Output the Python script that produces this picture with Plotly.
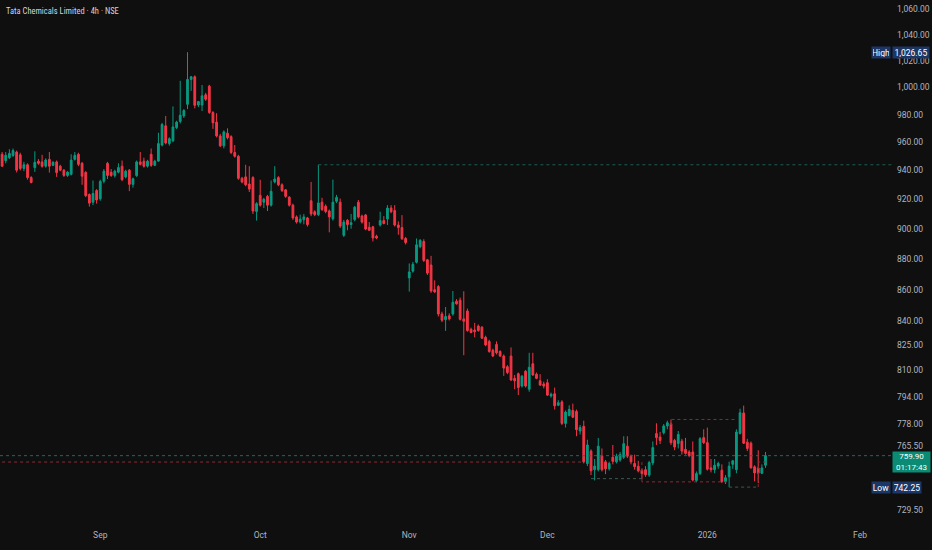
import plotly.graph_objects as go
import math

# ---- OHLC data (4h bars, Tata Chemicals, NSE) ----
ohlc = [
(951.4,953,942.5,943),(946.9,953,945,950.7),(949,955,948,952),(950.6,955.5,949.5,954),
(953,954,938.6,940.2),(951,952.5,940,941.4),(941.4,946,939.5,944),(944,945,933.6,935),
(935,936,931,931.6),(942,953.5,939,945.7),(946.4,948,944,945),(946,951,942,942.9),
(943,948.5,942,947.3),(947.8,953,938.5,943),(943.6,946.5,943,945.7),(946,947,935.5,938.5),
(943,944,939.5,940.2),(940.2,941,935.5,936.5),(936.5,939.5,935.5,938.8),(937.3,951.4,936.5,947.3),
(947.8,953,947,950.6),(951.4,952.5,943,944.3),(945,946,930,936),(938.6,939.5,921.5,922.5),
(923.3,924,915,917.4),(918,933,916,924),(926,927,917,919.5),(920.3,933.5,919,932.3),
(932.5,941,931,939.5),(945,946,934,936.5),(938.7,941,935.5,936.5),(936.5,940.5,935,939.5),
(938.8,945,938,942),(943,947,932.5,933.6),(935.5,940.5,934.5,939.5),(940.2,941,925.6,930.3),
(930.3,935,928,934.2),(936.4,947,935.5,946),(946,953,943.5,944.3),(946.5,949,942,942.9),
(943,947.5,942,946.5),(951.4,955.5,942.5,943.6),(943.6,947.5,943,946.5),(946.6,966.8,946,959),
(958,974,957,972.7),(971.8,979,958.5,959.5),(959,963.5,957.5,962.5),(961,986,960,971),
(970.5,975.5,969.5,974.5),(975,1005,973.5,979.5),(979,984,977.5,983),(987.5,1026.65,984,1006),
(1006,1008.5,997.5,1008),(1008,1009,984.5,986.8),(987,990,985.5,989.5),(987,1001.8,982.6,993.8),
(994.5,996,990,991.3),(1001,1002,980.5,981.5),(981.5,982.5,969.6,974),(974.5,981,963.5,964.5),
(964.5,966,956.5,957.4),(957.4,968.5,955.6,967.4),(966.5,970,962,963.2),(964,965,951.5,952.7),
(952.7,958,949,950),(950,951,933.5,934.5),(934.5,935.5,931,932),(935.5,944,929,930),
(930.5,943,925,927),(935,936,910,912),(911.7,918,905.5,917),(922.7,933.5,915,916),
(918,921,914,920),(922,923,912,916),(916,933,915,925.5),(932,943,931,934),
(935,936,929,930),(930,931,925,926),(926.5,927,921,922),(921.5,922,915,916),
(916,917,906,907.3),(908,909,903.5,904.5),(904.5,909.5,903.5,906.5),(906,910,903,908),
(907.3,908,901.5,902.8),(919,932,908.5,910),(911.5,912.5,908.5,909.5),(909.5,944,908.5,917.5),
(918,921,912,913),(915.3,916.5,910.5,911.7),(912,913,897.6,908),(906.7,933.6,905.5,918),
(918.6,923,917.5,921.3),(918,920.5,900.5,901.8),(895.6,906,894.5,904.5),(905.7,906.5,899,902.8),
(902.8,910,900,904),(906.2,915.5,905,914.6),(918,919.5,907,908),(908.6,909.5,903.5,904.5),
(909.3,910,899,899.8),(901,904.5,898.5,899),(901.3,902,891.5,893.8),(895,896,893,893.8),
(902.5,911.5,901.5,905.5),(905.5,908.5,903,903.5),(906.6,916,902.5,914),(914,916,910.5,911.5),
(912.3,916,901.5,902.5),(902.5,905,896,900.8),(900.8,909.2,892.5,893.3),(893.5,894.5,889.5,890.8),
(867.6,877,858.8,871.5),(872,878,871,876.5),(877.8,893.5,877,889.3),(888,893,887,892.3),
(891.5,893,878,879),(879.4,880,869.5,870.7),(876,882,858,859.2),(860,866,858,858.6),
(862,863,843,844.6),(844.6,846,839.5,840.7),(841,849,834,843),(843.4,845,840.5,841.5),
(844.6,859.2,843.5,852),(852.6,854,850.5,851),(853.3,855,840.5,841.2),(841.5,859,819,840),
(846.5,848,833.5,834.2),(835,836,832.5,833),(834.5,839,830,833.5),(837,838,833.5,834.2),
(836.3,837,829,829.5),(830,831,824.5,825.3),(827.5,828.5,820.5,821.3),(822,823,818,818.5),
(825.6,827.5,819.5,820.5),(821.3,822,818,818.5),(818.5,819.5,806.5,811.2),(812,813,807.5,808.5),
(818.5,823.8,803.5,804),(805,807,798.5,803.5),(807.8,808.5,795,799.5),(800.4,807,799.5,806.3),
(809.3,810,799.5,800.4),(798.5,820.5,797,811.7),(813.8,820.5,806.5,807),(807.5,808.5,804.5,805),
(803.5,807.5,800.5,801),(801.6,803,799,800.4),(802.4,804.5,794.5,795),(794.5,796.5,793.5,795.5),
(795.8,799.5,786.5,788.7),(789,792,788.5,790.5),(791,792,777.5,778.4),(778.4,786,776,785),
(783,789,782.5,786.6),(786,790,781.5,782),(785.4,786.5,771,774.8),(774,777.5,772,776),
(776.7,780,755.5,756.4),(755.4,769,754,766),(762.5,763.5,749,751.4),(752,758,746,754),
(752,770,751,765.3),(759.8,764,751,752),(756.4,757.5,749.5,752.5),(752.5,756.5,751.5,755.5),
(759,766,755,756.7),(756.4,761,755.5,759.6),(757.5,762,756.5,760.5),(759,771,758,766.7),
(765.3,771,758.5,759.6),(759.6,760.5,755,756.4),(755.5,760.5,752,753.7),(753.9,757,750.5,751.4),
(751.7,752.5,746.5,749.8),(752,754,748,749.2),(749,757,748,756),(755.8,768,754.5,764.5),
(772.5,778.5,766,770.2),(770.5,773.5,766.5,768.6),(773,778,772,776.9),(776.9,780,775,778.8),
(778.2,780.7,766,767.3),(768.6,769.5,763,764.8),(766.8,774,764,772),
(768.2,769.5,760.5,762.5),(763.5,770,760.5,761.2),(762,763,759,760),(762,768,745.5,746.2),
(746,751,745,749.8),(749.8,770.5,749,769.6),(770.2,775,766.5,767.3),(767.3,776,751.5,752.3),
(753,758,750.5,752),(752,758,750,754.5),(754,756.5,752.5,755.5),(751.7,755,744.5,745.4),
(745.4,749,744,747.5),(748,756.5,742.25,754),(755,757.5,752.5,757),(752,775,750,773.4),
(772.6,787,772,784.6),(784.5,788.8,766.5,767),(767.6,769.5,762.5,764),(767,768,752.5,753.1),
(753.6,754.5,745.5,750.2),(753,763,744.5,750),(750,755,749.5,753),(754.5,762,753,759.9),
]
open_ = [r[0] for r in ohlc]
high = [r[1] for r in ohlc]
low = [r[2] for r in ohlc]
close = [r[3] for r in ohlc]
bars = list(range(len(ohlc)))

# time-axis labels (bar index of month starts)
month_bar = [27, 71, 112, 150, 194, 236]
month_label = ["Sep", "Oct", "Nov", "Dec", "2026", "Feb"]

# price-axis labels
price_ticks = [1060, 1040, 1020, 1000, 980, 960, 940, 920, 900, 880, 860, 840, 825, 810, 794, 778, 765.5, 729.5]

# key values
high_val = 1026.65
low_val = 742.25
last_val = 759.90
countdown = "01:17:43"
hline_price = 944.0
hline_from_bar = 87

# stepped level indicator: (bars, prices, colour kind)
step_paths = [
    ([0, 160], [756.3, 756.3], "red"),
    ([162, 176], [747.0, 747.0], "grey"),
    ([176, 176, 200], [756.3, 745.2, 745.2], "red"),
    ([184, 184, 202], [777.5, 780.7, 780.7], "red"),
    ([200, 208], [742.3, 742.3], "grey"),
    ([208, 208, 210], [742.3, 756.3, 756.3], "red"),
]

UP = "#089981"
DOWN = "#F23645"
BG = "#0F0F0F"
TXT = "#B2B5BE"
XMAX = 244.8
XMIN = -0.58

fig = go.Figure()
fig.add_trace(go.Candlestick(
    x=bars, open=open_, high=high, low=low, close=close,
    increasing=dict(line=dict(color=UP, width=1), fillcolor=UP),
    decreasing=dict(line=dict(color=DOWN, width=1), fillcolor=DOWN),
    whiskerwidth=0, showlegend=False, hoverinfo="skip"))

colmap = {"red": "#8E2A33", "grey": "#3C5A55"}
for xs, ys, kind in step_paths:
    fig.add_trace(go.Scatter(x=xs, y=ys, mode="lines", showlegend=False, hoverinfo="skip",
                             line=dict(color=colmap[kind], width=1, dash="dot")))

# high-of-bar horizontal
fig.add_trace(go.Scatter(x=[hline_from_bar, XMAX], y=[hline_price, hline_price], mode="lines",
                         showlegend=False, hoverinfo="skip",
                         line=dict(color="#1B5E52", width=1, dash="dot")))
# last price line
fig.add_trace(go.Scatter(x=[XMIN, XMAX], y=[last_val, last_val], mode="lines",
                         showlegend=False, hoverinfo="skip",
                         line=dict(color="#11705F", width=1, dash="dot")))

FONT = "Roboto"
ann = []
ann.append(dict(x=0.005, y=0.992, xref="paper", yref="paper", xanchor="left", yanchor="top",
                text="Tata Chemicals Limited · 4h · NSE", showarrow=False,
                font=dict(family="Roboto Condensed, " + FONT, size=8.5, color="#D1D4DC")))
def badge(text, yv, side, bg, w=None, h=None, yshift=0, size=8.5):
    d = dict(x=1, xref="paper", y=math.log10(yv), yref="y", text=text, showarrow=False,
             bgcolor=bg, borderpad=1, font=dict(family=FONT, size=size, color="#FFFFFF"),
             xanchor="left" if side == "r" else "right", yanchor="middle",
             xshift=0 if side == "r" else -1, yshift=yshift)
    if w: d["width"] = w
    if h: d["height"] = h
    return d
NAVY = "#1C3766"
ann.append(badge("High", high_val, "l", NAVY, w=16, h=9))
ann.append(badge(f"{high_val:,.2f}", high_val, "r", NAVY, w=34, h=9))
ann.append(badge("Low", low_val, "l", NAVY, w=16, h=9))
ann.append(badge(f"{low_val:,.2f}", low_val, "r", NAVY, w=26, h=9))
ann.append(badge(f"{last_val:,.2f}<br>{countdown}", last_val, "r", "#0B8B74", w=35, h=18,
                 yshift=-6, size=8))

fig.update_layout(
    width=932, height=550, margin=dict(l=0, r=40, t=0, b=22),
    paper_bgcolor=BG, plot_bgcolor=BG,
    annotations=ann,
    xaxis=dict(range=[XMIN, XMAX], tickvals=month_bar, ticktext=month_label,
               showgrid=False, zeroline=False, showline=False, ticks="",
               rangeslider=dict(visible=False), fixedrange=True,
               tickfont=dict(family=FONT, size=8.5, color=TXT)),
    yaxis=dict(type="log", side="right", range=[math.log10(720.0), math.log10(1067.4)],
               tickvals=price_ticks, ticktext=[f"{v:,.2f}" for v in price_ticks],
               showgrid=False, zeroline=False, showline=False, ticks="",
               ticklabelstandoff=4,
               tickfont=dict(family=FONT, size=8.5, color=TXT)),
)

fig.write_html("out.html", config={"displayModeBar": False},
               post_script="document.body.style.margin='0';document.body.style.background='#0F0F0F';")
